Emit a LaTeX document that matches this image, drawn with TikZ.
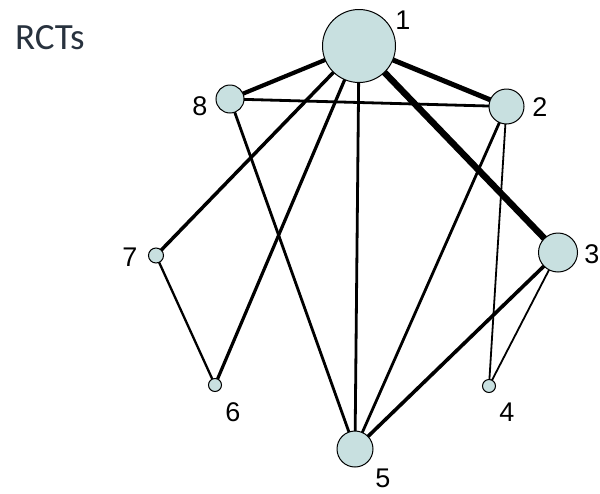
\documentclass[tikz,border=0pt]{standalone}
\usepackage{fontspec}
\setmainfont{Liberation Sans}
\newfontfamily\titlefont{Carlito}
\usetikzlibrary{backgrounds}
\definecolor{nodefill}{RGB}{200,224,224}
\definecolor{titlecol}{RGB}{40,50,62}
\tikzset{
  trt/.style={circle,draw=black,line width=1pt,fill=nodefill,inner sep=0pt,minimum size=#1},
  lbl/.style={font=\fontsize{27}{29}\selectfont,inner sep=0pt},
  edge/.style={line width=#1,draw=black},
}
\begin{document}
\begin{tikzpicture}[x=1pt,y=-1pt]
\useasboundingbox (0,0) rectangle (600,493);
\node[anchor=base west,inner sep=0pt,text=titlecol,font=\titlefont\fontsize{37}{40}\selectfont] (title) at (15,49) {RCTs};
\node[trt=73pt] (n1) at (359,46) {};
\node[trt=28pt] (n8) at (230,99) {};
\node[trt=35pt] (n2) at (506.5,106.5) {};
\node[trt=39pt] (n3) at (558,252.5) {};
\node[trt=15pt] (n7) at (156,255.5) {};
\node[trt=13pt] (n6) at (215,385) {};
\node[trt=13pt] (n4) at (489,386) {};
\node[trt=36pt] (n5) at (355,449) {};
\node[lbl] (l1) at (403,20) {1};
\node[lbl] (l8) at (200,106) {8};
\node[lbl] (l2) at (540,107) {2};
\node[lbl] (l3) at (592,254) {3};
\node[lbl] (l7) at (130,257) {7};
\node[lbl] (l6) at (233,412) {6};
\node[lbl] (l4) at (507,412) {4};
\node[lbl] (l5) at (383,478) {5};
\begin{pgfonlayer}{background}
\draw[edge=4.2pt] (n1.center) -- (n8.center);
\draw[edge=5pt] (n1.center) -- (n2.center);
\draw[edge=6.5pt] (n1.center) -- (n3.center);
\draw[edge=3.5pt] (n1.center) -- (n7.center);
\draw[edge=3.2pt] (n1.center) -- (n6.center);
\draw[edge=2.8pt] (n1.center) -- (n5.center);
\draw[edge=2.8pt] (n8.center) -- (n2.center);
\draw[edge=2.8pt] (n8.center) -- (n5.center);
\draw[edge=2.8pt] (n2.center) -- (n5.center);
\draw[edge=1.8pt] (n2.center) -- (n4.center);
\draw[edge=3.6pt] (n3.center) -- (n5.center);
\draw[edge=1.8pt] (n3.center) -- (n4.center);
\draw[edge=2.3pt] (n7.center) -- (n6.center);
\end{pgfonlayer}
\end{tikzpicture}
\end{document}
